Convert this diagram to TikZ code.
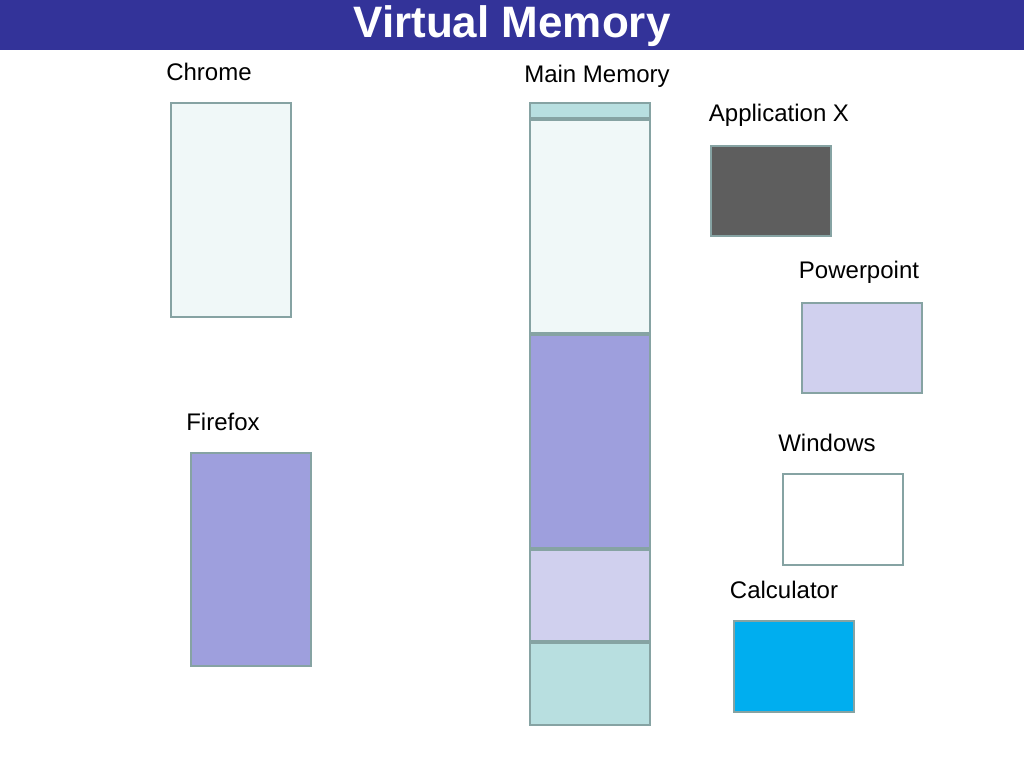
\documentclass[tikz,border=0pt]{standalone}
\usepackage{fontspec}
\setmainfont{Liberation Sans}
\usetikzlibrary{positioning}
\definecolor{edge}{HTML}{86A3A3}
\definecolor{titleblue}{HTML}{333399}
\definecolor{paleteal}{HTML}{B8DFE0}
\definecolor{palewhite}{HTML}{F0F8F8}
\definecolor{lavender}{HTML}{9E9FDD}
\definecolor{palelav}{HTML}{D0D0EE}
\definecolor{darkgray}{HTML}{5E5E5E}
\definecolor{skyblue}{HTML}{00AEEF}
\begin{document}
\begin{tikzpicture}[x=0.75pt,y=-0.75pt,
  block/.style={draw=edge,line width=1.5pt,rectangle,inner sep=0pt,minimum width=90pt,anchor=north west},
  lbl/.style={font=\fontsize{18}{20}\selectfont}]
\useasboundingbox (0,0) rectangle (1024,768);
\fill[titleblue] (0,0) rectangle (1024,50);
\node (title) at (512,26) [text=white,font=\fontsize{33}{36}\selectfont\bfseries] {Virtual Memory};

% main memory column
\node (mm0) [block,fill=paleteal,minimum height=11.25pt] at (529,102) {};
\node (mm1) [block,fill=palewhite,below=0pt of mm0,minimum height=159.75pt] {};
\node (mm2) [block,fill=lavender,below=0pt of mm1,minimum height=159.75pt] {};
\node (mm3) [block,fill=palelav,below=0pt of mm2,minimum height=68.25pt] {};
\node (mm4) [block,fill=paleteal,below=0pt of mm3,minimum height=61.5pt] {};
\node [lbl] at (597,76) {Main Memory};

% programs
\node (chrome) [block,fill=palewhite,minimum height=160.5pt] at (170,102) {};
\node [lbl] at (209,72) {Chrome};
\node (firefox) [block,fill=lavender,minimum height=159.75pt] at (190,452) {};
\node [lbl] at (223,422) {Firefox};
\node (appx) [block,fill=darkgray,minimum height=67.5pt] at (710,145) {};
\node [lbl] at (779,115) {Application X};
\node (ppt) [block,fill=palelav,minimum height=67.5pt] at (801,302) {};
\node [lbl] at (859,272) {Powerpoint};
\node (win) [block,fill=white,minimum height=68.25pt] at (782,473) {};
\node [lbl] at (827,443) {Windows};
\node (calc) [block,fill=skyblue,minimum height=68.25pt] at (733,620) {};
\node [lbl] at (784,590) {Calculator};
\end{tikzpicture}
\end{document}
